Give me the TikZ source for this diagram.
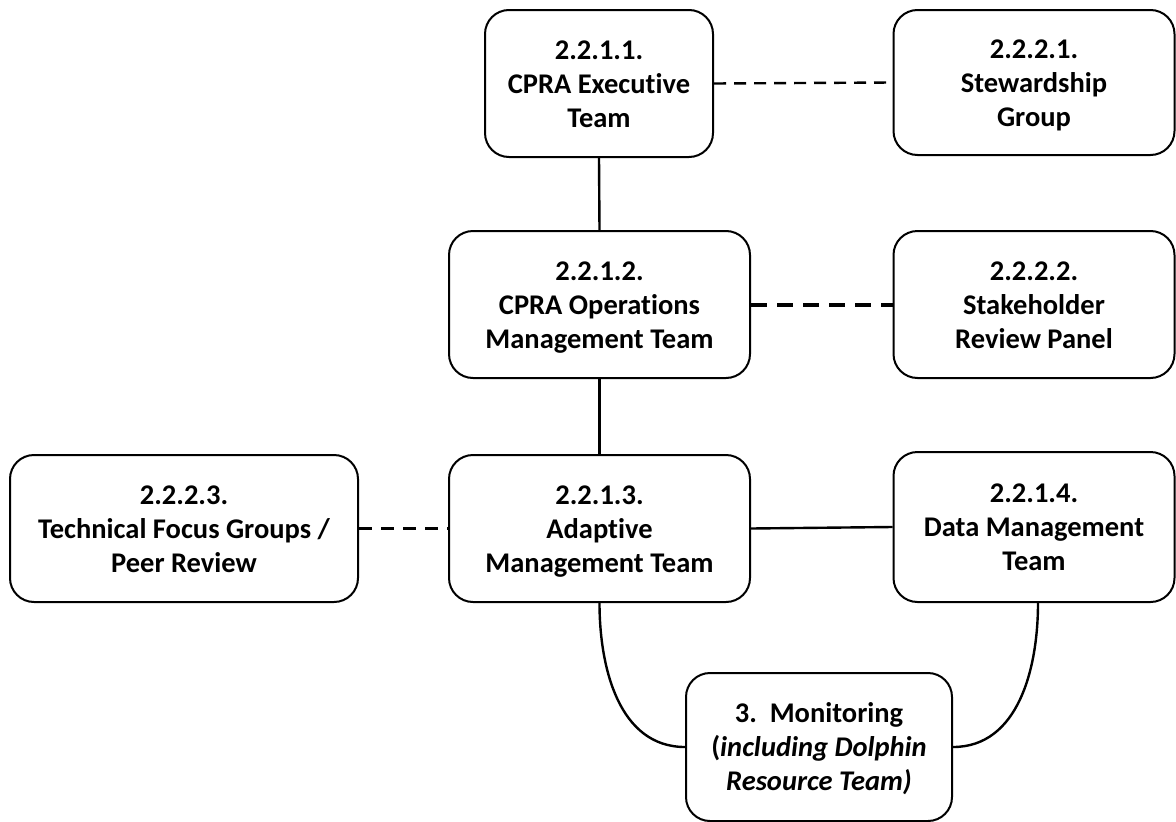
\documentclass[tikz,border=0pt]{standalone}
\usepackage{fontspec}
\setmainfont{Carlito}[RawFeature=-liga]
\begin{document}
\begin{tikzpicture}[x=1pt,y=-1pt,
  box/.style={draw=black, line width=2pt, rounded corners=24pt, fill=white,
    inner sep=0pt, align=center, font=\fontsize{28.5}{34}\selectfont\bfseries,
    text height=87pt, text depth=0pt},
  link/.style={line width=2.4pt},
  dlinkthin/.style={line width=2.4pt, dash pattern=on 12pt off 8pt},
  dlinkthick/.style={line width=4pt, dash pattern=on 16pt off 10pt},
  dlinkmid/.style={line width=3.2pt, dash pattern=on 13pt off 9pt}]
\useasboundingbox (0,0) rectangle (1176,822);
\node[box, minimum width=228pt, minimum height=147pt] (A) at (599,83.5) {2.2.1.1.\\CPRA Executive\\Team};
\node[box, minimum width=281pt, minimum height=145pt] (B) at (1034,82.5) {2.2.2.1.\\Stewardship\\Group};
\node[box, minimum width=301pt, minimum height=147pt] (C) at (599.5,304.5) {2.2.1.2.\\CPRA Operations\\Management Team};
\node[box, minimum width=281pt, minimum height=147pt] (D) at (1034,304.5) {2.2.2.2.\\Stakeholder\\Review Panel};
\node[box, minimum width=348pt, minimum height=147pt] (E) at (184,528.5) {2.2.2.3.\\Technical Focus Groups /\\Peer Review};
\node[box, minimum width=301pt, minimum height=147pt] (F) at (599.5,528.5) {2.2.1.3.\\Adaptive\\Management Team};
\node[box, minimum width=281pt, minimum height=150pt] (G) at (1034,527) {2.2.1.4.\\Data Management\\Team};
\node[box, minimum width=266pt, minimum height=148pt] (H) at (819,747) {3.~~Monitoring\\(\textit{including Dolphin}\\\textit{Resource Team)}};
\draw[dlinkthin] (A.east) -- (B.west);
\draw[link] (A.south) -- (C.north);
\draw[dlinkthick] (C.east) -- (D.west);
\draw[link] (C.south) -- (F.north);
\draw[dlinkmid] (E.east) -- (F.west);
\draw[link] (F.east) -- (G.west);
\draw[link] (F.south) to[out=-90,in=180] (H.west);
\draw[link] ([xshift=4pt]G.south) to[out=-90,in=0] (H.east);
\end{tikzpicture}
\end{document}
